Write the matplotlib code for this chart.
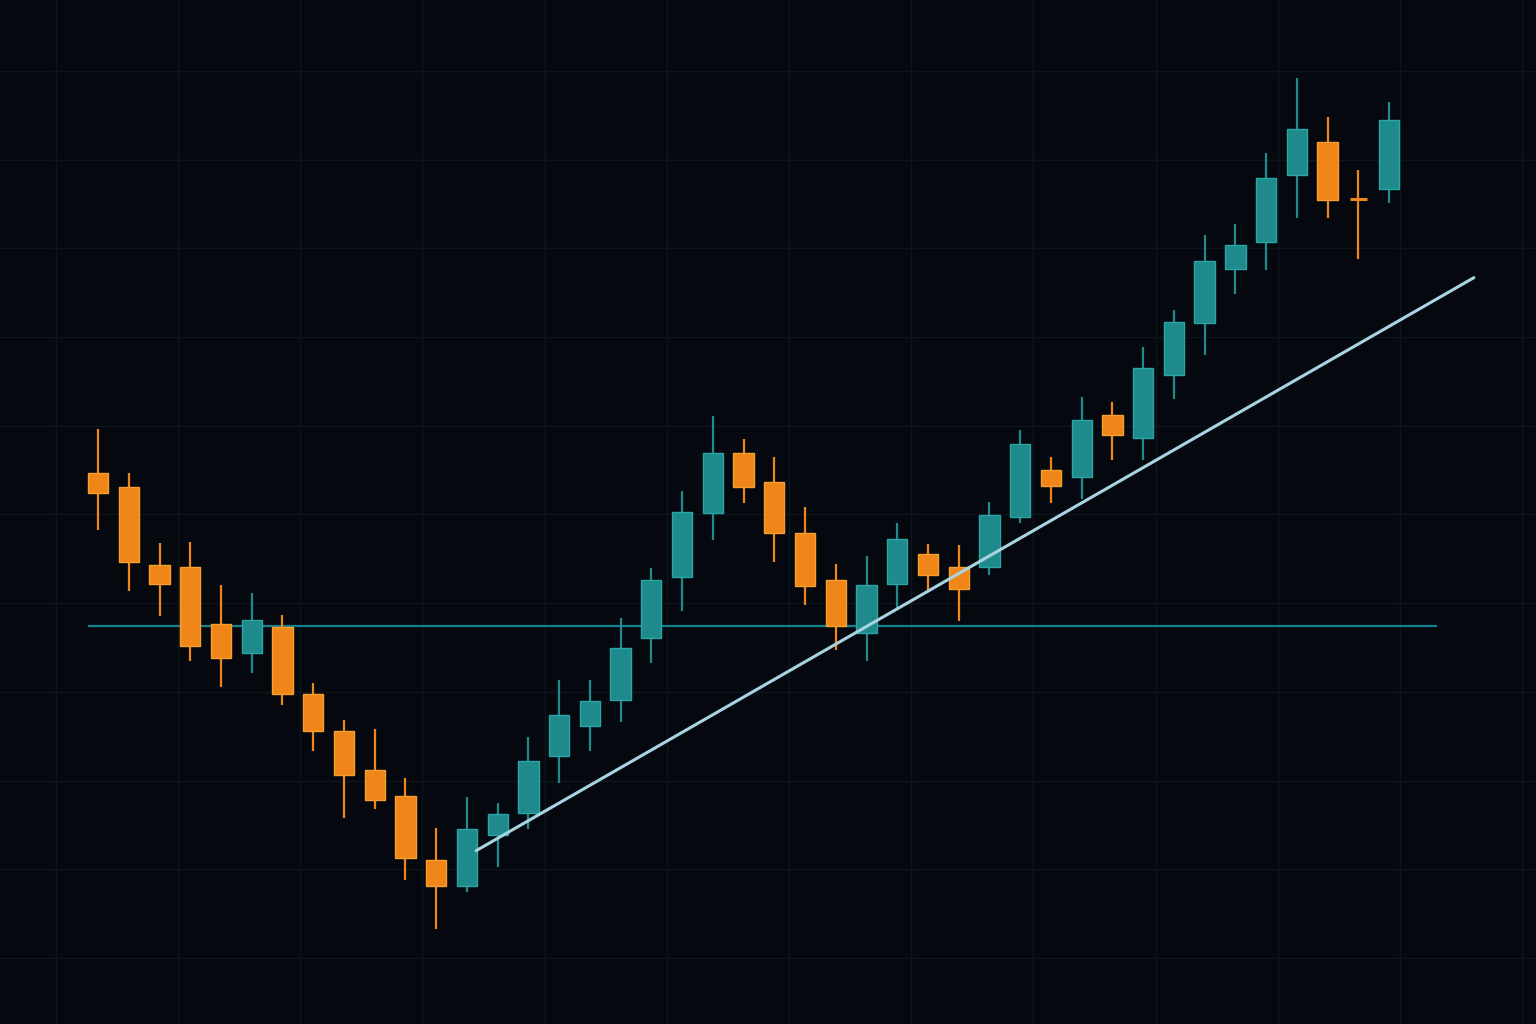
import numpy as np
import matplotlib
matplotlib.use("Agg")
from matplotlib import pyplot as plt

# %%
# candle data (open, high, low, close), one entry per session
opens = [154.7, 153.1, 144.3, 144.1, 137.7, 134.4, 137.3, 129.8, 125.6, 121.2,
         118.3, 111.1, 108.1, 113.9, 116.4, 122.8, 126.2, 129.1, 136.1, 143.0,
         150.2, 156.9, 153.7, 147.9, 142.6, 136.6, 142.2, 145.6, 144.1, 144.1,
         149.7, 155.0, 154.2, 161.2, 158.6, 165.7, 171.6, 177.7, 180.7, 188.3,
         192.0, 185.6, 186.7]
highs = [159.6, 154.7, 146.8, 146.9, 142.1, 141.2, 138.7, 131.0, 126.8, 125.8,
         120.3, 114.7, 118.2, 117.5, 124.9, 131.3, 131.3, 138.3, 144.0, 152.7,
         161.1, 158.5, 156.5, 150.9, 144.4, 145.3, 149.0, 146.7, 146.6, 151.4,
         159.5, 156.5, 163.3, 162.7, 168.9, 173.1, 181.5, 182.8, 190.8, 199.2,
         194.8, 188.8, 196.5]
lows = [148.3, 141.4, 138.6, 133.5, 130.6, 132.1, 128.5, 123.3, 115.8, 116.8,
        108.8, 103.3, 107.4, 110.3, 114.5, 119.7, 123.3, 126.6, 133.3, 139.1,
        147.1, 151.3, 144.6, 139.8, 134.7, 133.5, 139.5, 141.5, 138.0, 143.2,
        149.0, 151.3, 151.8, 156.1, 156.1, 163.0, 168.0, 174.9, 177.6, 183.4,
        183.4, 178.8, 185.1]
closes = [152.4, 144.6, 142.2, 135.2, 133.8, 138.1, 129.8, 125.6, 120.6, 117.8,
          111.3, 108.1, 114.5, 116.2, 122.2, 127.4, 129.0, 135.0, 142.6, 150.3,
          156.9, 153.1, 147.9, 141.9, 137.4, 142.1, 147.2, 143.2, 141.6, 149.9,
          158.0, 153.2, 160.7, 159.0, 166.5, 171.7, 178.6, 180.4, 187.9, 193.5,
          185.5, 185.6, 194.5]

# support level and rising trendline
support_level = 137.4
support_span = [-0.33, 43.56]
trend_x = [12.3, 44.76]
trend_y = [112.1, 176.7]

# %%
bg = '#05090f'
grid_col = '#0f151d'
up_col, up_edge = '#1e8a8c', '#2aa6a6'
dn_col, dn_edge = '#f0851a', '#f7a02e'

fig = plt.figure(figsize=(15.36, 10.24), dpi=100, facecolor=bg)
ax = fig.add_axes([0, 0, 1, 1])
ax.set_facecolor(bg)

idx = np.arange(len(opens))
o = np.array(opens); h = np.array(highs); l = np.array(lows); c = np.array(closes)
up = c > o

# wicks
ax.vlines(idx[up], l[up], h[up], color=up_col, lw=1.6, zorder=3)
ax.vlines(idx[~up], l[~up], h[~up], color=dn_col, lw=1.6, zorder=3)

# bodies
bw = 0.66
ax.bar(idx[up], (c - o)[up], bottom=o[up], width=bw, color=up_col,
       edgecolor=up_edge, linewidth=1.0, zorder=4)
doji = (~up) & (np.abs(c - o) < 0.3)
body = (~up) & ~doji
ax.bar(idx[body], (c - o)[body], bottom=o[body], width=bw, color=dn_col,
       edgecolor=dn_edge, linewidth=1.0, zorder=4)
ax.hlines(o[doji], idx[doji] - 0.28, idx[doji] + 0.28, color=dn_col, lw=2.2, zorder=4)

# support + trend line
ax.hlines(support_level, support_span[0], support_span[1], color='#13808c', lw=1.6, zorder=2)
ax.plot(trend_x, trend_y, color='#a8d4e2', lw=2.2, solid_capstyle='round', zorder=5)

# grid
ax.set_xlim(-3.19, 46.78)
ax.set_ylim(92.56, 208.0)
ax.set_xticks(np.arange(-1.37, 47, 3.975))
ax.set_yticks(np.arange(100, 201, 10))
ax.grid(True, color=grid_col, lw=1.0, zorder=0)
ax.set_axisbelow(True)
ax.tick_params(length=0, labelbottom=False, labelleft=False)
for s in ax.spines.values():
    s.set_visible(False)

fig.savefig('out.png', dpi=100, facecolor=bg)
